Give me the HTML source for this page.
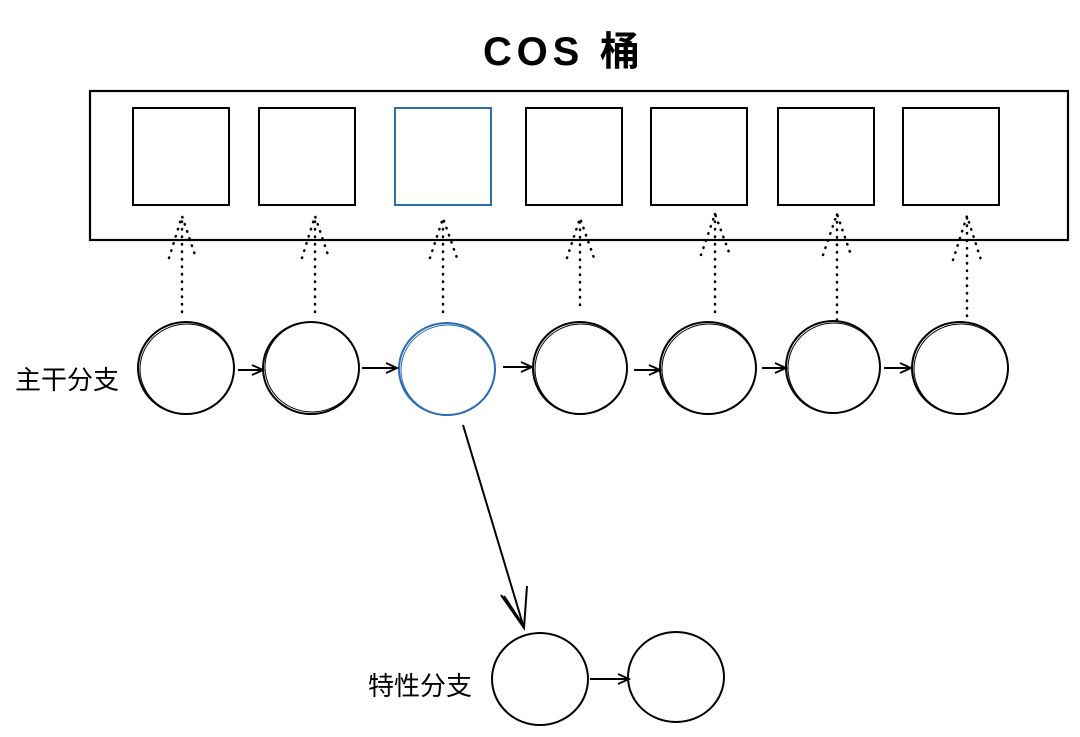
<!DOCTYPE html>
<html><head><meta charset="utf-8"><style>
html,body{margin:0;padding:0;background:#fff;}
svg{display:block;}
text{font-family:"Liberation Sans","Noto Sans CJK SC",sans-serif;}
</style></head><body>
<svg width="1080" height="737" viewBox="0 0 1080 737" xmlns="http://www.w3.org/2000/svg">
<defs>
<marker id="ah" markerWidth="14" markerHeight="12" refX="12" refY="6" orient="auto" markerUnits="userSpaceOnUse">
<path d="M1,1 L12,6 L1,11" fill="none" stroke="#000" stroke-width="1.8"/>
</marker>
</defs>
<text x="483" y="65" font-size="40" font-weight="bold" textLength="157" lengthAdjust="spacing" fill="#000">COS 桶</text>
<rect x="90" y="91" width="978" height="149" fill="none" stroke="#000" stroke-width="2.2"/>
<g fill="none" stroke="#000" stroke-width="2">
<rect x="133" y="108" width="96" height="97"/>
<rect x="259" y="108" width="96" height="97"/>
<rect x="395" y="108" width="96" height="97" stroke="#2a6db0"/>
<rect x="526" y="108" width="96" height="97"/>
<rect x="651" y="108" width="96" height="97"/>
<rect x="778" y="108" width="96" height="97"/>
<rect x="903" y="108" width="96" height="97"/>
</g>
<g fill="none" stroke="#000" stroke-width="2.5" stroke-linecap="round" stroke-dasharray="0.5 7">
<line x1="182" y1="312" x2="182" y2="216"/><path d="M169,258 L182,216 L196,258"/>
<line x1="315" y1="312" x2="315" y2="216"/><path d="M302,258 L315,216 L329,258"/>
<line x1="443" y1="312" x2="443" y2="218"/><path d="M430,258 L443,218 L457,258"/>
<line x1="580" y1="305" x2="580" y2="218"/><path d="M567,258 L580,218 L594,258"/>
<line x1="715" y1="312" x2="715" y2="214"/><path d="M701,255 L715,214 L730,255"/>
<line x1="837" y1="320" x2="837" y2="214"/><path d="M823,255 L837,214 L851,255"/>
<line x1="967" y1="316" x2="967" y2="216"/><path d="M953,260 L967,216 L981,260"/>
</g>
<text x="15" y="389" font-size="26" fill="#000">主干分支</text>
<text x="368" y="695" font-size="26" fill="#000">特性分支</text>
<g fill="none" stroke="#000" stroke-width="2">
<ellipse cx="186" cy="368" rx="48" ry="46"/><ellipse cx="187" cy="369" rx="47" ry="45" stroke-width="1"/>
<ellipse cx="311" cy="368" rx="48" ry="46"/><ellipse cx="312" cy="367" rx="47" ry="45" stroke-width="1"/>
<ellipse cx="447" cy="369" rx="48" ry="46" stroke="#2a6db0"/><ellipse cx="448" cy="370" rx="47" ry="45" stroke="#2a6db0" stroke-width="1"/>
<ellipse cx="580" cy="368" rx="47" ry="46"/><ellipse cx="581" cy="369" rx="46" ry="45" stroke-width="1"/>
<ellipse cx="708" cy="368" rx="48" ry="46"/><ellipse cx="709" cy="369" rx="47" ry="45" stroke-width="1"/>
<ellipse cx="833" cy="367" rx="47" ry="46"/><ellipse cx="834" cy="368" rx="46" ry="45" stroke-width="1"/>
<ellipse cx="960" cy="368" rx="48" ry="46"/><ellipse cx="961" cy="369" rx="47" ry="45" stroke-width="1"/>
<ellipse cx="540" cy="679" rx="48" ry="46"/>
<ellipse cx="676" cy="677" rx="48" ry="45"/>
</g>
<g stroke="#000" stroke-width="2" fill="none">
<line x1="238" y1="370" x2="263" y2="370" marker-end="url(#ah)"/>
<line x1="362" y1="368" x2="397" y2="368" marker-end="url(#ah)"/>
<line x1="503" y1="367" x2="532" y2="367" marker-end="url(#ah)"/>
<line x1="634" y1="370" x2="660" y2="370" marker-end="url(#ah)"/>
<line x1="762" y1="368" x2="786" y2="368" marker-end="url(#ah)"/>
<line x1="884" y1="368" x2="911" y2="368" marker-end="url(#ah)"/>
<line x1="590" y1="679" x2="629" y2="679" marker-end="url(#ah)"/>
<line x1="463" y1="425" x2="524" y2="628"/>
<path d="M501,595 L524,628 L527,586"/>
<path d="M504,596 L523,625"/>
</g>
</svg>
</body></html>
